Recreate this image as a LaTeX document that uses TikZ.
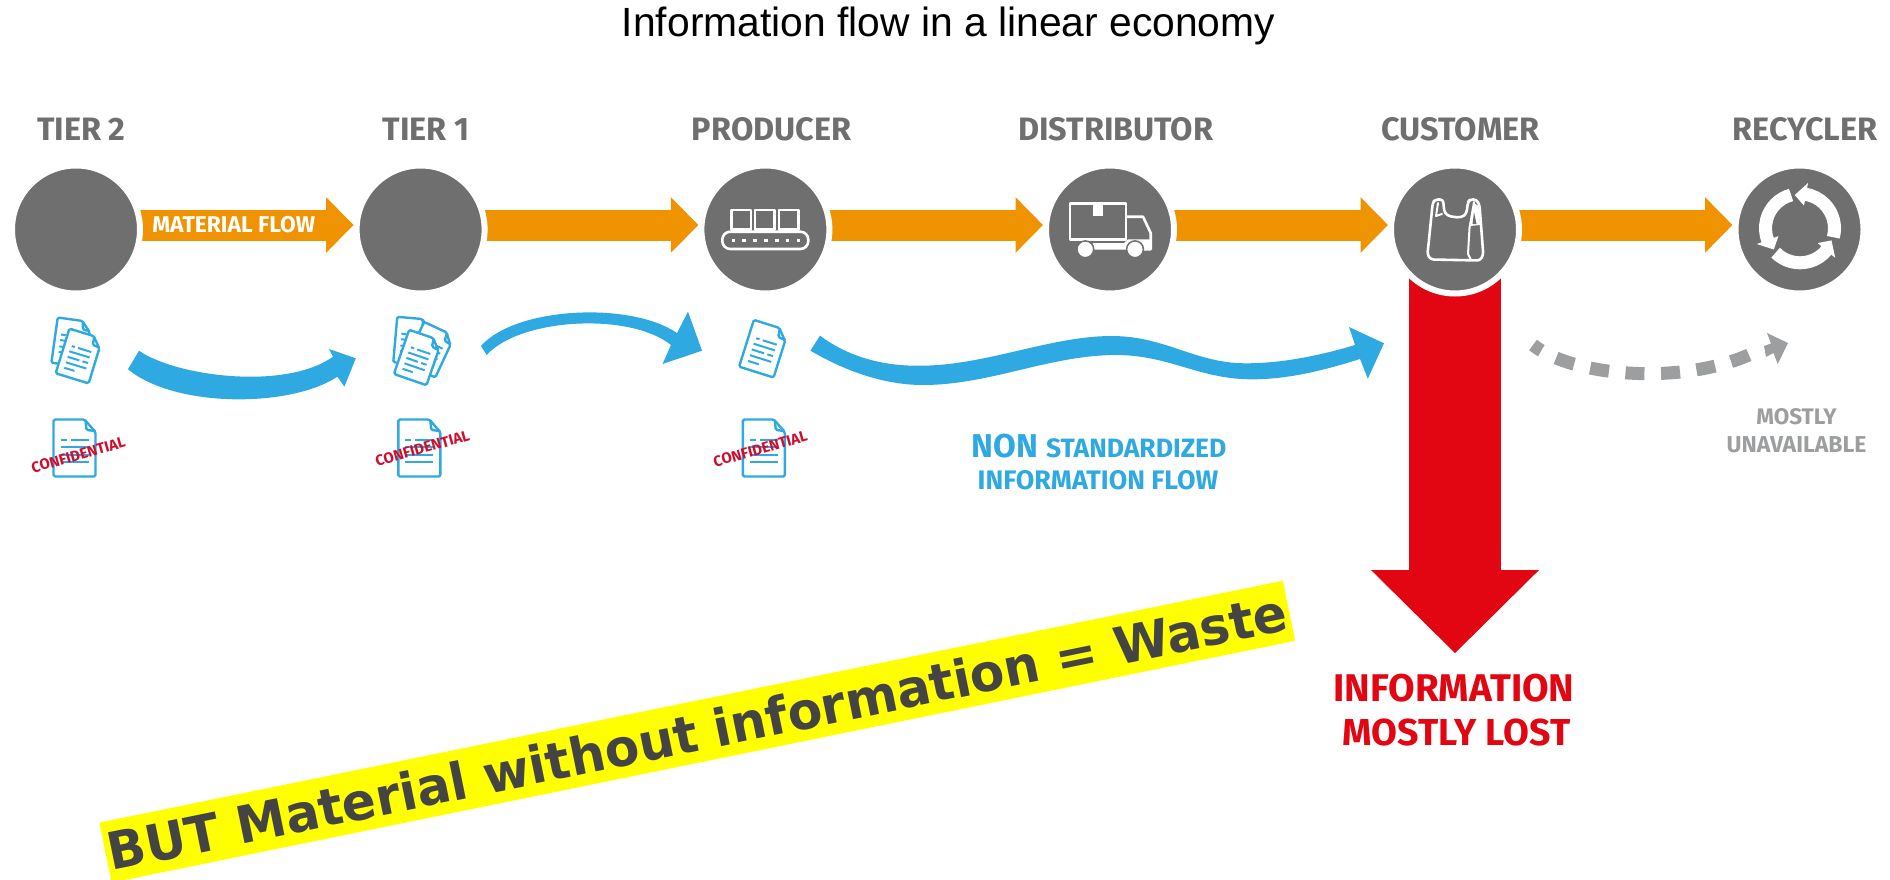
\documentclass[tikz,border=0pt]{standalone}
\usepackage{fontspec}
\usetikzlibrary{arrows.meta,backgrounds}
\setmainfont{Liberation Sans}
\newfontfamily\labelfont{Fira Sans Bold}
\newfontfamily\bannerfont[FakeStretch=0.975]{DejaVu Sans Bold}
\definecolor{circgray}{HTML}{6F6F70}
\definecolor{flowor}{HTML}{F09300}
\definecolor{flowbl}{HTML}{2FA9E1}
\definecolor{lostred}{HTML}{E20613}
\definecolor{softgray}{HTML}{9D9E9F}
\definecolor{stampred}{HTML}{CE0E2D}
\definecolor{bantext}{HTML}{444444}
\definecolor{banyellow}{RGB}{255,255,0}
\newcommand{\lf}[1]{\labelfont\fontsize{#1}{#1}\selectfont}
\newcommand{\docoutline}{%
  \draw[docline,fill=white] (-21,-28.5) -- (10,-28.5) -- (21,-16) -- (21,28.5) -- (-21,28.5) -- cycle;
  \draw[docline] (11,-28) -- (12,-18) -- (21,-17);}
\tikzset{
  stage/.style={circle,fill=circgray,draw=white,line width=6pt,minimum size=128pt,inner sep=0pt},
  txt/.style={anchor=base,inner sep=0pt,outer sep=0pt},
  tierlabel/.style={txt,text=circgray,font=\lf{32.4}},
  stamp/.style={inner sep=0pt,text=stampred,rotate=15.8,font=\lf{15}},
  matflow/.style={line width=31pt,draw=flowor,-{Triangle[length=27.5pt,width=54pt]}},
  iconline/.style={draw=white,line width=2.6pt,line join=round,line cap=round},
  docline/.style={draw=flowbl,line width=2.4pt,line join=round,rounded corners=1.5pt},
  rowline/.style={draw=flowbl,line width=2pt},
  docicon/.pic={
    \docoutline
    \draw[rowline] (-14,-8) -- (-8,-8) (-4,-8) -- (14,-8) (-14,-1) -- (14,-1)
      (-14,7) -- (14,7) (-14,14) -- (14,14);
  },
  docdense/.pic={
    \docoutline
    \draw[rowline] (-12,-9) -- (-8,-9) (-4,-9) -- (13,-9) (-13,-2) -- (13,-2)
      (-13,5) -- (2,5) (6,5) -- (13,5) (-13,12) -- (13,12) (-13,19) -- (0,19);
  }
}
\begin{document}
\begin{tikzpicture}[x=1pt,y=-1pt]
\useasboundingbox (0,0) rectangle (1890,880);
\clip (0,0) rectangle (1890,880);

% title
\node[txt,font=\fontsize{40.8}{41}\selectfont] (title) at (948.5,36.7) {Information flow in a linear economy};

% stages
\node[stage] (t2) at (76,229.5) {};
\node[stage] (t1) at (420.6,229.5) {};
\node[stage] (pr) at (765.4,229.5) {};
\node[stage] (di) at (1110,229.5) {};
\node[stage] (cu) at (1455,229.5) {};
\node[stage] (re) at (1799.5,229.5) {};

\node[tierlabel] (lt2) at (81.3,140.7) {TIER 2};
\node[tierlabel] (lt1) at (425.9,140.7) {TIER 1};
\node[tierlabel] (lpr) at (771.6,140.7) {PRODUCER};
\node[tierlabel] (ldi) at (1115.7,140.7) {DISTRIBUTOR};
\node[tierlabel] (lcu) at (1460.5,140.7) {CUSTOMER};
\node[tierlabel] (lre) at (1805,140.7) {RECYCLER};

% material flow and loss arrows, behind the circles
\coordinate (redtip) at (1455,653.3);
\begin{scope}[on background layer]
  \draw[matflow] ([yshift=4.5pt]t2.center) -- ([yshift=4.5pt]t1.west);
  \draw[matflow] ([yshift=4.5pt]t1.center) -- ([yshift=4.5pt]pr.west);
  \draw[matflow] ([yshift=4.5pt]pr.center) -- ([yshift=4.5pt]di.west);
  \draw[matflow] ([yshift=4.5pt]di.center) -- ([yshift=4.5pt]cu.west);
  \draw[matflow] ([yshift=4.5pt]cu.center) -- ([yshift=4.5pt]re.west);
  \draw[draw=lostred,line width=92.7pt,-{Triangle[length=83.3pt,width=163pt]}] (cu.center) -- (redtip);
\end{scope}

\node[txt,text=white,font=\lf{22.8}] (mf) at (233.7,232.3) {MATERIAL FLOW};

% information flow arrows
\coordinate (bt1) at (355.8,358.3);
\coordinate (bt2) at (702,350.7);
\coordinate (bt3) at (1384,343.3);
\fill[flowbl] (139,350.7) .. controls (175,376) and (285,391) .. (333,356.7)
  -- (329,349) -- (bt1) -- (344.4,386.7) -- (337.5,376.7)
  .. controls (290,408) and (175,408) .. (128,369.3) -- cycle;
\fill[flowbl] (481,346) .. controls (515,307) and (630,301) .. (677,333)
  -- (688,311.7) -- (bt2) -- (662.5,364) -- (671,345)
  .. controls (630,312) and (520,318) .. (486.7,355) -- cycle;
\fill[flowbl] (820,335.7) .. controls (850,358) and (885,366) .. (918.8,365.7)
  .. controls (985,366) and (1050,336) .. (1111.6,336)
  .. controls (1165,336) and (1195,363) .. (1244.7,363.3)
  .. controls (1285,363.5) and (1325,354) .. (1355,345)
  -- (1349,327) -- (bt3) -- (1367.8,378.7) -- (1360,359)
  .. controls (1325,370) and (1290,379) .. (1254,379.3)
  .. controls (1200,380) and (1170,355) .. (1116,355)
  .. controls (1050,355) and (990,385) .. (923,385)
  .. controls (880,385) and (840,368) .. (810.4,350.7) -- cycle;

% unavailable arrow
\coordinate (gs) at (1533,345);
\coordinate (ge) at (1751,354);
\coordinate (gtip) at (1788,343);
\draw[softgray,line width=13pt,dash pattern=on 19pt off 16.6pt,dash phase=9pt]
  (gs) .. controls (1572,376) and (1680,386) .. (ge);
\fill[softgray] (1767,333) -- (gtip) -- (1777.7,364) -- (1773.5,353) -- (1766,357) -- (1764,346) -- (1771,343.5) -- cycle;

% documents
\pic[scale=0.8,rotate=-8] at (71.2,342.4) {docicon};
\pic[scale=0.82,rotate=-17] at (79,356) {docdense};
\pic[scale=0.8,rotate=-5] at (412,341) {docicon};
\pic[scale=0.8,rotate=-25] at (429.7,349.7) {docicon};
\pic[scale=0.82,rotate=-19] at (417.8,357.5) {docdense};
\pic[scale=0.86,rotate=-17.5] at (763.7,348.7) {docdense};
\pic at (74.5,448) {docicon};
\pic at (419.3,448) {docicon};
\pic at (763.8,448) {docicon};
\node[stamp] (c1) at (78.3,455) {CONFIDENTIAL};
\node[stamp] (c2) at (422.4,448.3) {CONFIDENTIAL};
\node[stamp] (c3) at (760.3,449) {CONFIDENTIAL};

% conveyor icon
\draw[iconline] (731.7,210) rectangle (751,229.3) (755,210) rectangle (774.3,229.3) (779,210) rectangle (798.3,229.3);
\draw[iconline,rounded corners=8pt] (722.3,231.7) rectangle (808.3,249);
\foreach \dx in {733.3,744.2,755,765.8,776.7,787.5,798.3}
  \fill[white] (\dx-1.8,238.5) rectangle (\dx+1.8,242.1);

% truck icon
\draw[iconline] (1070,203.3) rectangle (1126,239.3);
\fill[white] (1092.7,203.3) rectangle (1103.3,215.7);
\draw[iconline] (1127,216.7) -- (1143,216.7) -- (1150.7,233) -- (1150.7,249.3) -- (1127,249.3);
\fill[white] (1092.7,243) -- (1124,243) -- (1128,239.3) -- (1150.7,239.3) -- (1150.7,249.5) -- (1092.7,249.5) -- cycle;
\fill[white,draw=circgray,line width=1.5pt] (1085.3,249.3) circle (8.4);
\fill[white,draw=circgray,line width=1.5pt] (1135,249.3) circle (8.4);

% bag icon
\draw[iconline,rounded corners=3pt] (1431,259.5) -- (1427.4,255) -- (1432.7,203) -- (1435,199.5) -- (1443,199.5) -- (1444.5,213)
  .. controls (1452,218) and (1462,218) .. (1466.5,213)
  -- (1468,202) -- (1470,199.5) -- (1476.5,199.5) -- (1479.5,205) -- (1483.3,255) -- (1480,260.5) -- cycle;
\draw[iconline,line width=2pt] (1438,203) -- (1436,216) -- (1442,214);
\draw[iconline,line width=2pt] (1474,202) -- (1469.5,228) -- (1468,254) -- (1471,260);
\fill[white] (1474,203) -- (1478.5,206) -- (1480,225) -- (1470,226) -- cycle;
\fill[circgray] (1474,212) -- (1476.5,224) -- (1472.5,224) -- cycle;

% recycling icon
\begin{scope}[shift={(1800,228.3)},y=1pt]
  \foreach \a in {0,120,240} {
    \draw[white,line width=13pt] (\a-15:34.5) arc[start angle=\a-15,end angle=\a+82,radius=34.5];
    \fill[white] (\a+80:23) -- (\a+80:46) -- (\a+99:33.7) -- cycle;
  }
\end{scope}

% captions
\node[txt,text=flowbl] (nonl) at (1099,457.3) {\lf{33}NON \lf{26.5}STANDARDIZED};
\node[txt,text=flowbl,font=\lf{26.8}] (infl) at (1098,489) {INFORMATION FLOW};
\node[txt,text=lostred,font=\lf{38.6}] (lost1) at (1454,701) {INFORMATION};
\node[txt,text=lostred,font=\lf{37.5}] (lost2) at (1456.5,745) {MOSTLY LOST};
\node[txt,text=softgray,font=\lf{22.5}] (un1) at (1796.5,424.3) {MOSTLY};
\node[txt,text=softgray,font=\lf{23}] (un2) at (1796.5,452.3) {UNAVAILABLE};

% banner
\node[fill=banyellow,text=bantext,inner sep=0pt,minimum width=1208pt,minimum height=61.3pt,rotate=11.55,
  font=\bannerfont\fontsize{51.5}{51.5}\selectfont] (banner) at (697.2,731.7) {BUT Material without information = Waste};
\end{tikzpicture}
\end{document}
